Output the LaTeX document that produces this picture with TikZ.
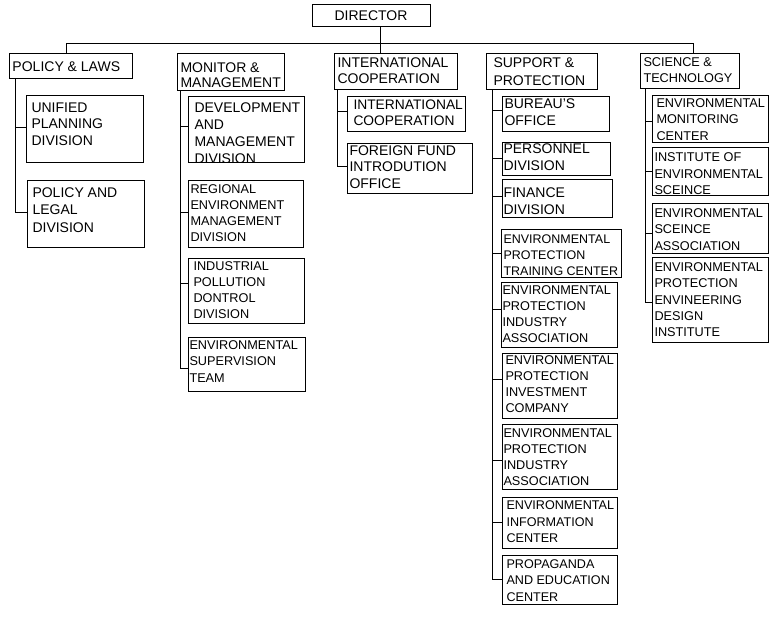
\documentclass[tikz,border=0pt]{standalone}
\usepackage{fontspec}
\setmainfont{Liberation Sans}
\usetikzlibrary{fit}
\newcommand\mlines[1]{\begin{tabular}[t]{@{}l@{}}#1\end{tabular}}
\begin{document}
\begin{tikzpicture}[x=1pt,y=-1pt,line width=1pt,
  box/.style={draw,line width=1pt,inner sep=0pt,fit={#1}},
  lbl/.style 2 args={anchor=base west,inner sep=0pt,font=\fontsize{#1}{#2}\selectfont}]
\fill[white] (0,0) rectangle (776,618);
\useasboundingbox (0,0) rectangle (776,618);

% ---- top level
\node[box={(312,5) (430,27)}] (dir) {};
\node[anchor=base,inner sep=0pt,font=\fontsize{14}{16}\selectfont] (dir-t) at (371,21) {DIRECTOR};

\node[box={(9,54) (132,78)}] (pl) {};
\node[lbl={14}{16}] (pl-t) at (12,71) {POLICY \& LAWS};
\node[box={(177,54) (284,90)}] (mm) {};
\node[lbl={14}{15}] (mm-t) at (180,73) {\mlines{MONITOR \&\\MANAGEMENT}};
\node[box={(334,54) (457,89)}] (ic) {};
\node[lbl={14}{16.5}] (ic-t) at (337,67) {\mlines{INTERNATIONAL\\COOPERATION}};
\node[box={(486,54) (597,89)}] (sp) {};
\node[lbl={14}{18}] (sp-t) at (493,67.5) {\mlines{SUPPORT \&\\PROTECTION}};
\node[box={(640,54) (739,88)}] (st) {};
\node[lbl={12.7}{16.5}] (st-t) at (643,66.5) {\mlines{SCIENCE \&\\TECHNOLOGY}};

% ---- bus
\coordinate (busL) at (66,44);
\coordinate (busR) at (693,44);
\draw (pl.north -| busL) -- (busL) -- (busR) -- (st.north -| busR);
\draw (dir.south -| 380,0) -- (ic.north -| 380,0);

% ---- policy & laws
\node[box={(26,95) (143,162)}] (pl1) {};
\node[lbl={14}{16.7}] (pl1-t) at (31,112) {\mlines{UNIFIED\\PLANNING\\DIVISION}};
\node[box={(27,180) (144,247)}] (pl2) {};
\node[lbl={14}{17.5}] (pl2-t) at (32,197) {\mlines{POLICY AND\\LEGAL\\DIVISION}};
\draw (pl.south -| 15,0) |- ([yshift=1.5pt]pl1.west);
\draw (pl.south -| 15,0) |- ([yshift=1.5pt]pl2.west);

% ---- monitor & management
\node[box={(188,96) (304,162)}] (mm1) {};
\begin{scope}
\clip (188,96) rectangle (304,162);
\node[lbl={14}{17.3}] (mm1-t) at (194,112) {\mlines{DEVELOPMENT\\AND\\MANAGEMENT\\DIVISION}};
\end{scope}
\node[box={(188,180) (303,247)}] (mm2) {};
\node[lbl={12.7}{16}] (mm2-t) at (190,193) {\mlines{REGIONAL\\ENVIRONMENT\\MANAGEMENT\\DIVISION}};
\node[box={(188,258) (304,323)}] (mm3) {};
\node[lbl={12.7}{16}] (mm3-t) at (193,270.5) {\mlines{INDUSTRIAL\\POLLUTION\\DONTROL\\DIVISION}};
\node[box={(188,337) (305,391)}] (mm4) {};
\node[lbl={12.7}{16.5}] (mm4-t) at (189,349) {\mlines{ENVIRONMENTAL\\SUPERVISION\\TEAM}};
\draw (mm.south -| 180,0) |- ([yshift=3pt]mm1.west);
\draw (mm.south -| 180,0) |- ([yshift=1pt]mm2.west);
\draw (mm.south -| 180,0) |- ([yshift=7pt]mm3.west);
\draw (mm.south -| 180,0) |- ([yshift=-4pt]mm4.west);

% ---- international cooperation
\node[box={(347,96) (465,131)}] (ic1) {};
\node[lbl={13.8}{16.5}] (ic1-t) at (353,109.5) {\mlines{INTERNATIONAL\\COOPERATION}};
\node[box={(347,143) (472,193)}] (ic2) {};
\node[lbl={14}{16.7}] (ic2-t) at (349,155) {\mlines{FOREIGN FUND\\INTRODUTION\\OFFICE}};
\draw (ic.south -| 337,0) |- ([yshift=2.5pt]ic1.west);
\draw (ic.south -| 337,0) |- ([yshift=2pt]ic2.west);

% ---- support & protection
\node[box={(502,96) (609,131)}] (sp1) {};
\node[lbl={14}{17.3}] (sp1-t) at (504,108) {\mlines{BUREAU'S\\OFFICE}};
\node[box={(502,142) (610,175)}] (sp2) {};
\node[lbl={14}{17.3}] (sp2-t) at (503,153.5) {\mlines{PERSONNEL\\DIVISION}};
\node[box={(502,179) (612,217)}] (sp3) {};
\node[lbl={14}{17.7}] (sp3-t) at (503,197) {\mlines{FINANCE\\DIVISION}};
\node[box={(501,229) (621,277)}] (sp4) {};
\node[lbl={12.5}{16}] (sp4-t) at (503,243) {\mlines{ENVIRONMENTAL\\PROTECTION\\TRAINING CENTER}};
\node[box={(501,282) (617,347)}] (sp5) {};
\node[lbl={12.7}{16}] (sp5-t) at (502,294) {\mlines{ENVIRONMENTAL\\PROTECTION\\INDUSTRY\\ASSOCIATION}};
\node[box={(502,353) (617,418)}] (sp6) {};
\node[lbl={12.7}{16}] (sp6-t) at (505,364.5) {\mlines{ENVIRONMENTAL\\PROTECTION\\INVESTMENT\\COMPANY}};
\node[box={(502,424) (617,489)}] (sp7) {};
\node[lbl={12.7}{16}] (sp7-t) at (503,437.5) {\mlines{ENVIRONMENTAL\\PROTECTION\\INDUSTRY\\ASSOCIATION}};
\node[box={(502,497) (617,548)}] (sp8) {};
\node[lbl={12.6}{16.5}] (sp8-t) at (506,509.5) {\mlines{ENVIRONMENTAL\\INFORMATION\\CENTER}};
\node[box={(502,555) (617,604)}] (sp9) {};
\node[lbl={12.6}{16.5}] (sp9-t) at (506,568) {\mlines{PROPAGANDA\\AND EDUCATION\\CENTER}};
\draw (sp.south -| 492,0) |- ([yshift=3.5pt]sp1.west);
\draw (sp.south -| 492,0) |- (sp2.west);
\draw (sp.south -| 492,0) |- ([yshift=1.5pt]sp3.west);
\draw (sp.south -| 492,0) |- (sp4.west);
\draw (sp.south -| 492,0) |- ([yshift=5pt]sp5.west);
\draw (sp.south -| 492,0) |- ([yshift=6pt]sp6.west);
\draw (sp.south -| 492,0) |- ([yshift=-4pt]sp7.west);
\draw (sp.south -| 492,0) |- (sp8.west);
\draw (sp.south -| 492,0) |- (sp9.west);

% ---- science & technology
\node[box={(652,95) (768,142)}] (st1) {};
\node[lbl={12.7}{16.5}] (st1-t) at (656,107) {\mlines{ENVIRONMENTAL\\MONITORING\\CENTER}};
\node[box={(652,147) (768,195)}] (st2) {};
\node[lbl={12.7}{16.5}] (st2-t) at (654,161.5) {\mlines{INSTITUTE OF\\ENVIRONMENTAL\\SCEINCE}};
\node[box={(652,203) (768,253)}] (st3) {};
\node[lbl={12.7}{16.5}] (st3-t) at (654,217) {\mlines{ENVIRONMENTAL\\SCEINCE\\ASSOCIATION}};
\node[box={(652,257) (768,342)}] (st4) {};
\node[lbl={12.7}{16.3}] (st4-t) at (654,271.5) {\mlines{ENVIRONMENTAL\\PROTECTION\\ENVINEERING\\DESIGN\\INSTITUTE}};
\draw (st.south -| 645,0) |- ([yshift=-2.5pt]st1.west);
\draw (st.south -| 645,0) |- (st2.west);
\draw (st.south -| 645,0) |- ([yshift=-5pt]st3.west);
\draw (st.south -| 645,0) |- ([yshift=-3pt]st4.west);
\end{tikzpicture}
\end{document}
